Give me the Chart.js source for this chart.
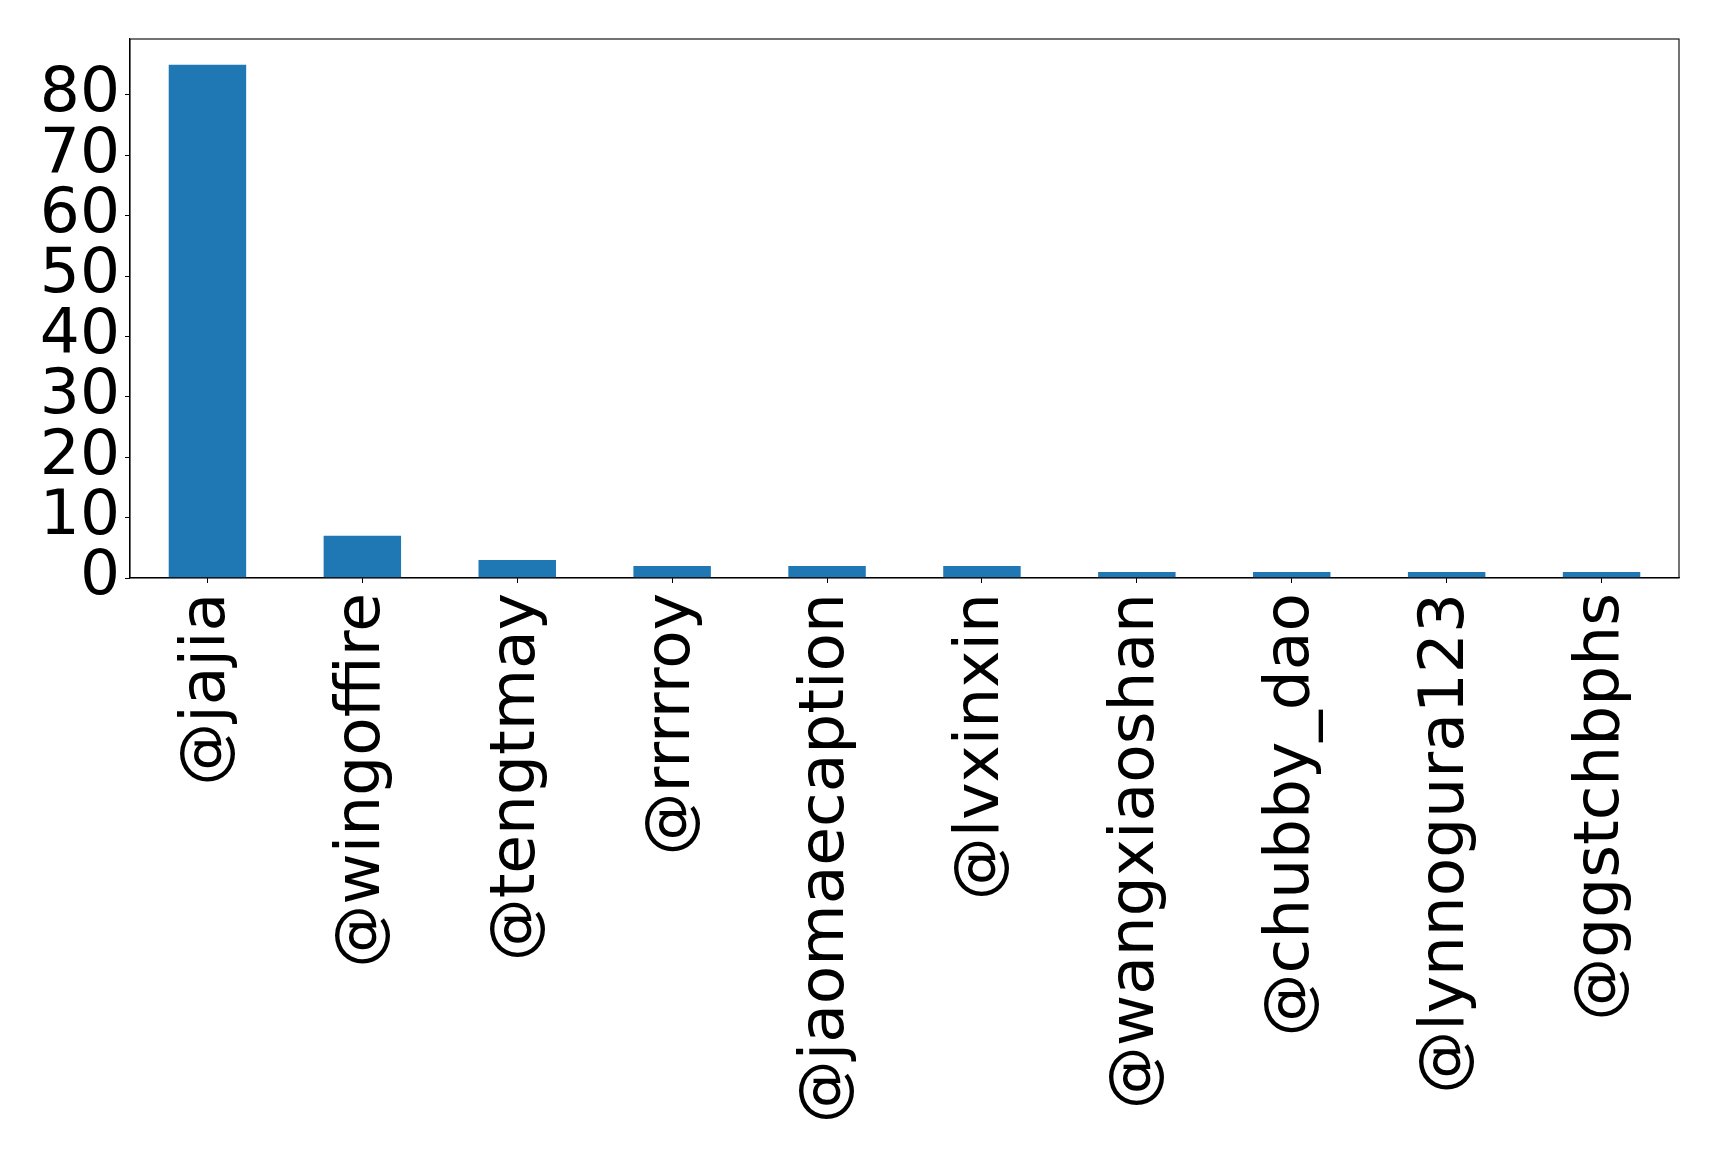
<!DOCTYPE html>
<html>
<head>
<meta charset="utf-8">
<script src="https://cdn.jsdelivr.net/npm/chart.js@4"></script>
<style>
  html, body { margin: 0; padding: 0; background: #ffffff; }
  #wrap { width: 1719px; height: 1154px; }
  canvas { display: block; }
</style>
</head>
<body>
<div id="wrap"><canvas id="c" width="1719" height="1154"></canvas></div>
<script>
const categories = ["@jajia", "@wingoffire", "@tengtmay", "@rrrrroy", "@jaomaecaption",
                    "@lvxinxin", "@wangxiaoshan", "@chubby_dao", "@lynnogura123", "@ggstchbphs"];
const counts = [85, 7, 3, 2, 2, 2, 1, 1, 1, 1];
const yTickValues = [0, 10, 20, 30, 40, 50, 60, 70, 80];
const yMax = 89.25;

const FONT = { family: "'DejaVu Sans', sans-serif", size: 63 };

const frameBox = {
  id: 'frameBox',
  afterDraw(chart) {
    const a = chart.chartArea, ctx = chart.ctx;
    ctx.save();
    ctx.strokeStyle = '#000000';
    ctx.lineWidth = 1.1;
    ctx.strokeRect(a.left, a.top, a.right - a.left, a.bottom - a.top);
    ctx.restore();
  }
};

new Chart(document.getElementById('c'), {
  type: 'bar',
  data: {
    labels: categories,
    datasets: [{
      data: counts,
      backgroundColor: '#1f77b4',
      borderWidth: 0,
      categoryPercentage: 1.0,
      barPercentage: 0.5
    }]
  },
  options: {
    responsive: false,
    devicePixelRatio: 1,
    animation: false,
    layout: { padding: { top: 39, right: 40, left: 0, bottom: 0 } },
    plugins: { legend: { display: false }, tooltip: { enabled: false } },
    scales: {
      x: {
        grid: { offset: false, drawOnChartArea: false, drawTicks: true, tickLength: 5, color: '#000000', lineWidth: 1 },
        border: { display: true, color: '#000000', width: 1.1 },
        ticks: {
          color: '#000000', font: FONT, autoSkip: false,
          minRotation: 90, maxRotation: 90, padding: 10
        },
        afterFit(scale) {
          scale.height = 1154 - 578;
          scale.paddingLeft = 0; scale.paddingRight = 0;
          scale.paddingTop = 0; scale.paddingBottom = 0;
        }
      },
      y: {
        min: 0, max: yMax,
        grid: { drawOnChartArea: false, drawTicks: true, tickLength: 5, color: '#000000', lineWidth: 1 },
        border: { display: true, color: '#000000', width: 1.1 },
        ticks: { color: '#000000', font: FONT, padding: 5, autoSkip: false },
        afterBuildTicks(scale) { scale.ticks = yTickValues.map(v => ({ value: v })); },
        afterFit(scale) {
          scale.width = 130;
          scale.paddingTop = 0; scale.paddingBottom = 0;
          scale.paddingLeft = 0; scale.paddingRight = 0;
        }
      }
    }
  },
  plugins: [frameBox]
});
</script>
</body>
</html>
